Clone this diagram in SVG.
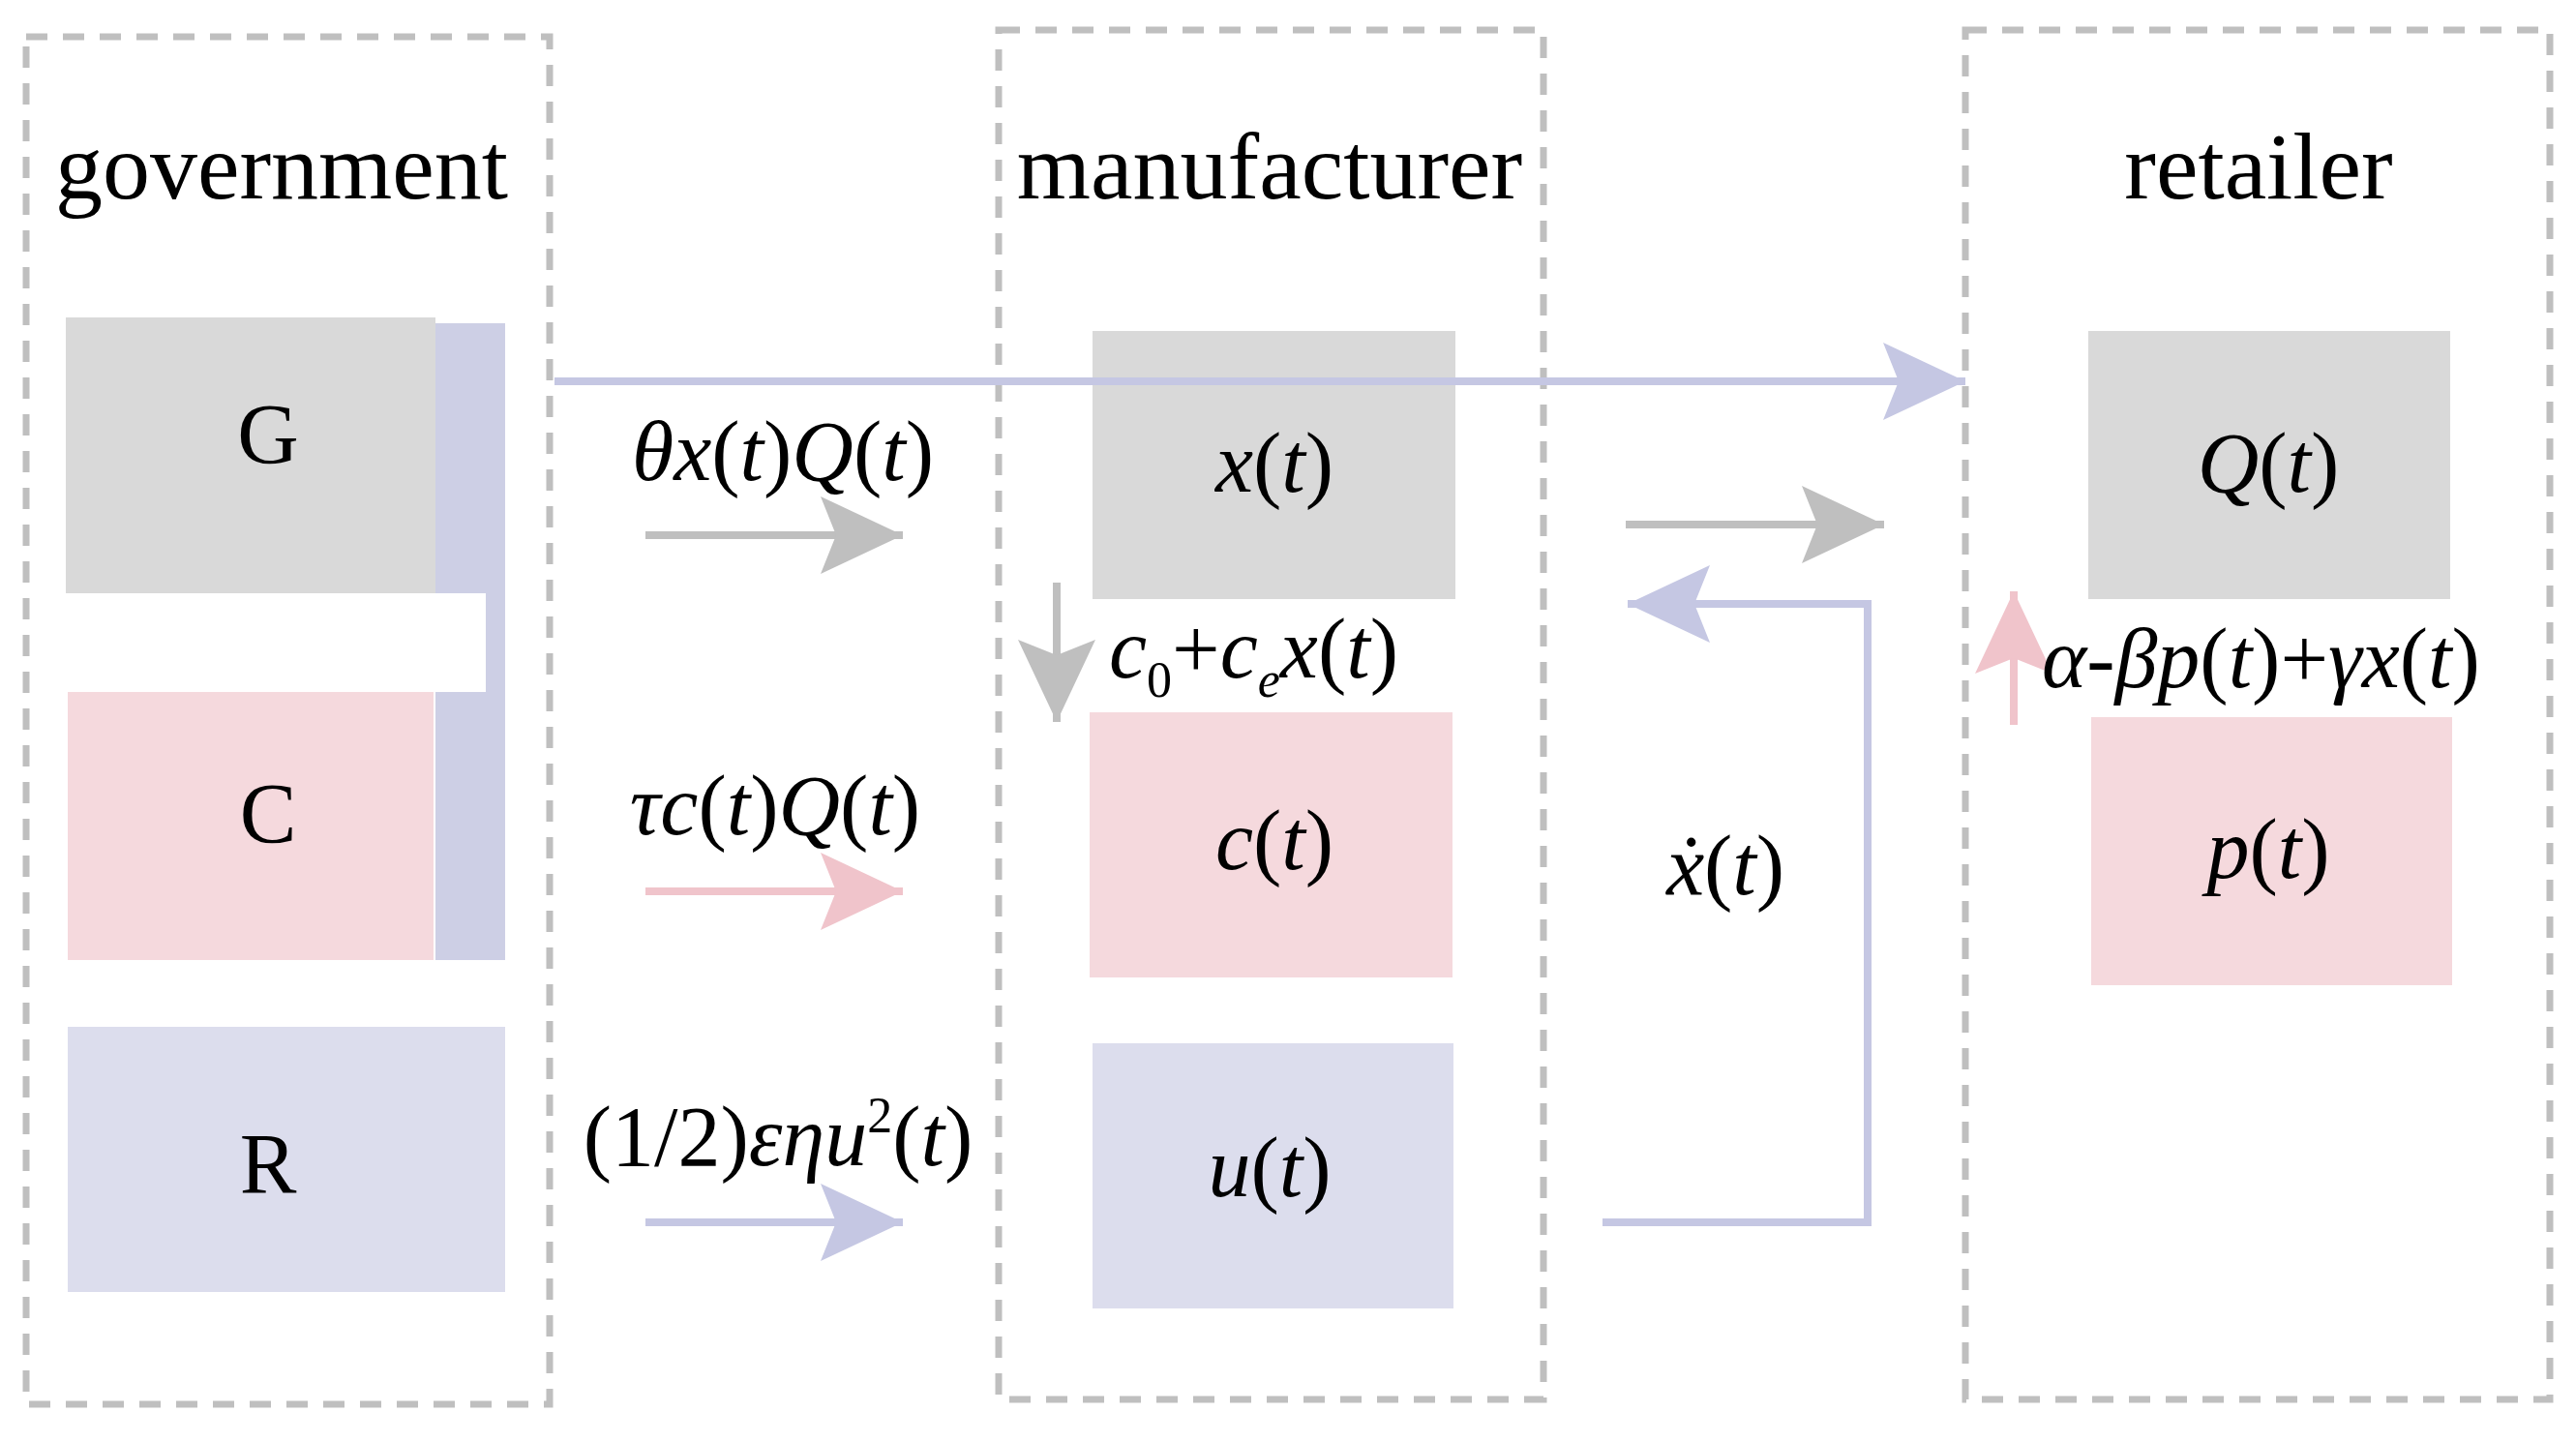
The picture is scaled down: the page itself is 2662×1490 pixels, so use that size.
<svg xmlns="http://www.w3.org/2000/svg" width="2662" height="1490" viewBox="0 0 2662 1490">
<style>
.dash{fill:none;stroke:#bfbfbf;stroke-width:7;stroke-dasharray:22 16}
.t{font-family:"Liberation Serif",serif;fill:#000}
.title{font-size:98px;text-anchor:middle}
.big{font-size:88px;text-anchor:middle}
.m{font-size:88px;font-style:italic}
.up{font-style:normal}
</style>
<defs>
<marker id="hg" markerUnits="userSpaceOnUse" markerWidth="90" markerHeight="80" refX="85" refY="40" orient="auto"><path d="M0,0 L85,40 L0,80 L16,40 Z" fill="#bfbfbf"/></marker>
<marker id="hp" markerUnits="userSpaceOnUse" markerWidth="90" markerHeight="80" refX="85" refY="40" orient="auto"><path d="M0,0 L85,40 L0,80 L16,40 Z" fill="#f0c4cb"/></marker>
<marker id="hl" markerUnits="userSpaceOnUse" markerWidth="90" markerHeight="80" refX="85" refY="40" orient="auto"><path d="M0,0 L85,40 L0,80 L16,40 Z" fill="#c5c7e3"/></marker>
</defs>
<rect width="2662" height="1490" fill="#fff"/>
<g id="government">
<rect class="dash" x="27" y="38" width="541" height="1413"/>
<text class="t title" x="291" y="205">government</text>
</g>
<g id="manufacturer">
<rect class="dash" x="1032" y="31" width="563" height="1415"/>
<text class="t title" x="1312" y="205">manufacturer</text>
</g>
<g id="retailer">
<rect class="dash" x="2031" y="31" width="604" height="1415"/>
<text class="t title" x="2334" y="205">retailer</text>
</g>
<g id="G-bar"><rect x="450" y="334" width="72" height="658" fill="#cdcfe5"/><rect x="68" y="613" width="434" height="102" fill="#fff"/></g>
<g id="G"><rect x="68" y="328" width="382" height="285" fill="#d9d9d9"/><text class="t big" x="277" y="478">G</text></g>
<g id="C"><rect x="70" y="715" width="378" height="277" fill="#f5d9dd"/><text class="t big" x="277" y="870">C</text></g>
<g id="R"><rect x="70" y="1061" width="452" height="274" fill="#dcdded"/><text class="t big" x="277" y="1232">R</text></g>
<g id="x"><rect x="1129" y="342" width="375" height="277" fill="#d9d9d9"/><text class="t m" x="1317" y="508" text-anchor="middle">x<tspan class="up">(</tspan>t<tspan class="up">)</tspan></text></g>
<g id="c"><rect x="1126" y="736" width="375" height="274" fill="#f5d9dd"/><text class="t m" x="1317" y="898" text-anchor="middle">c<tspan class="up">(</tspan>t<tspan class="up">)</tspan></text></g>
<g id="u"><rect x="1129" y="1078" width="373" height="274" fill="#dcdded"/><text class="t m" x="1312" y="1236" text-anchor="middle">u<tspan class="up">(</tspan>t<tspan class="up">)</tspan></text></g>
<g id="Q"><rect x="2158" y="342" width="374" height="277" fill="#d9d9d9"/><text class="t m" x="2344" y="508" text-anchor="middle">Q<tspan class="up">(</tspan>t<tspan class="up">)</tspan></text></g>
<g id="p"><rect x="2161" y="741" width="373" height="277" fill="#f5d9dd"/><text class="t m" x="2344" y="907" text-anchor="middle">p<tspan class="up">(</tspan>t<tspan class="up">)</tspan></text></g>
<g id="connectors" fill="none" stroke-width="8">
<line x1="573" y1="394" x2="2031" y2="394" stroke="#c5c7e3" marker-end="url(#hl)"/>
<line x1="667" y1="553" x2="933" y2="553" stroke="#bfbfbf" marker-end="url(#hg)"/>
<line x1="667" y1="921" x2="933" y2="921" stroke="#f0c4cb" marker-end="url(#hp)"/>
<line x1="667" y1="1263" x2="933" y2="1263" stroke="#c5c7e3" marker-end="url(#hl)"/>
<line x1="1092" y1="602" x2="1092" y2="746" stroke="#bfbfbf" marker-end="url(#hg)"/>
<line x1="1680" y1="542" x2="1947" y2="542" stroke="#bfbfbf" marker-end="url(#hg)"/>
<polyline points="1656,1263 1930,1263 1930,624 1682,624" stroke="#c5c7e3" marker-end="url(#hl)"/>
<line x1="2081" y1="749" x2="2081" y2="611" stroke="#f0c4cb" marker-end="url(#hp)"/>
</g>
<g id="labels">
<text class="t m" x="809" y="496" text-anchor="middle">θx<tspan class="up">(</tspan>t<tspan class="up">)</tspan>Q<tspan class="up">(</tspan>t<tspan class="up">)</tspan></text>
<text class="t m" x="801" y="862" text-anchor="middle">τc<tspan class="up">(</tspan>t<tspan class="up">)</tspan>Q<tspan class="up">(</tspan>t<tspan class="up">)</tspan></text>
<text class="t m" x="804" y="1204" text-anchor="middle"><tspan class="up">(1/2)</tspan>εηu<tspan class="up" font-size="52" dy="-34">2</tspan><tspan class="up" dy="34">(</tspan>t<tspan class="up">)</tspan></text>
<text class="t m" x="1146" y="700">c<tspan class="up" font-size="52" dy="20">0</tspan><tspan class="up" dy="-20">+</tspan>c<tspan font-size="52" dy="20">e</tspan><tspan dy="-20">x</tspan><tspan class="up">(</tspan>t<tspan class="up">)</tspan></text>
<text class="t m" x="1783" y="924" text-anchor="middle">ẋ<tspan class="up">(</tspan>t<tspan class="up">)</tspan></text>
<text class="t m" x="2110" y="710" font-size="84">α<tspan class="up">-</tspan>βp<tspan class="up">(</tspan>t<tspan class="up">)+</tspan>γx<tspan class="up">(</tspan>t<tspan class="up">)</tspan></text>
</g>
</svg>
